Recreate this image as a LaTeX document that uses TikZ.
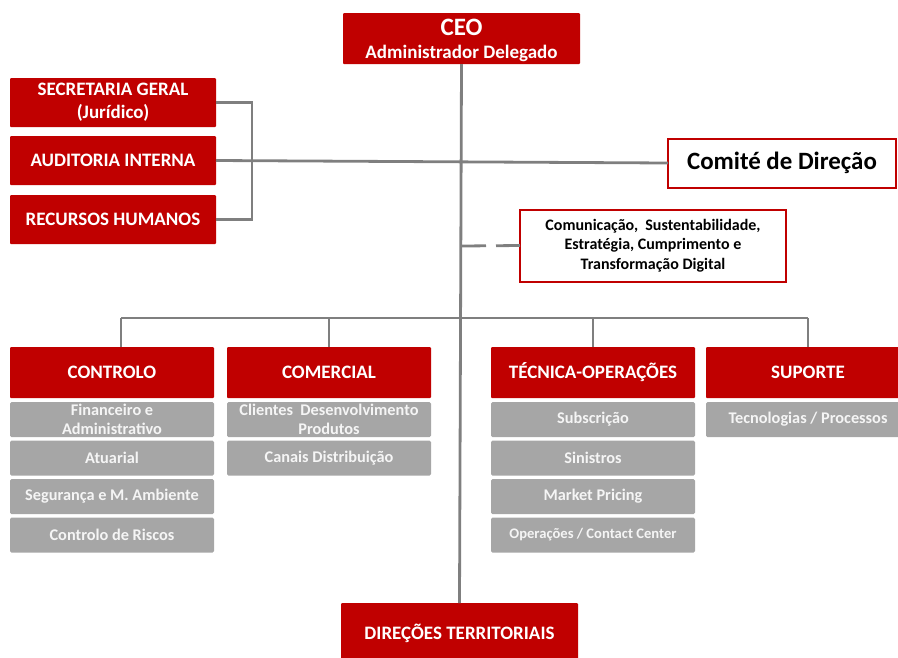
\documentclass[tikz,border=0pt]{standalone}
\usepackage{fontspec}
\setmainfont{Carlito}
\begin{document}
\begin{tikzpicture}[x=1pt,y=-1pt,
  redbox/.style={fill=cred,draw=none,rounded corners=1pt,inner sep=0pt,outer sep=0pt,text=white,font=\bfseries\fontsize{19}{23}\selectfont,align=center},
  graybox/.style={fill=cgray,draw=none,rounded corners=1.5pt,inner sep=0pt,outer sep=0pt,text=ctext,font=\bfseries\fontsize{16.3}{19.5}\selectfont,align=center,minimum width=204pt,minimum height=35pt},
  whitebox/.style={fill=white,draw=cred,line width=2pt,inner sep=0pt,outer sep=0pt,text=black,align=center},
  conn/.style={draw=cline,line width=2.8pt}]
\definecolor{cred}{HTML}{C00000}
\definecolor{cgray}{HTML}{A6A6A6}
\definecolor{ctext}{HTML}{F5F5F5}
\definecolor{cline}{HTML}{7F7F7F}
\useasboundingbox (0,0) rectangle (898,657);

\coordinate (dashpt) at (462,246);
\coordinate (busL) at (121,318);
\coordinate (busR) at (808,318);

% top boxes
\node[redbox,minimum width=237pt,minimum height=51pt] (ceo) at (461.5,38.5) {};
\node[text=white,font=\bfseries\fontsize{25}{25}\selectfont,inner sep=0pt] (ceot) at (461.5,27.5) {CEO};
\node[text=white,font=\bfseries\fontsize{19}{19}\selectfont,inner sep=0pt] (ceos) at (461.5,53.5) {Administrador Delegado};

\node[redbox,minimum width=206pt,minimum height=49pt] (sec) at (113,102.5) {SECRETARIA GERAL\\(Jurídico)};
\node[redbox,minimum width=206pt,minimum height=49pt] (aud) at (113,160.5) {AUDITORIA INTERNA};
\node[redbox,minimum width=206pt,minimum height=49pt] (rh) at (113,219.5) {RECURSOS HUMANOS};

\node[whitebox,minimum width=228pt,minimum height=49pt,font=\bfseries\fontsize{24.9}{26}\selectfont] (comite) at (782,163) {Comité de Direção};
\node[whitebox,minimum width=266pt,minimum height=72pt,font=\bfseries\fontsize{16}{19.5}\selectfont] (comun) at (653,245.5) {Comunicação,\ \ Sustentabilidade,\\Estratégia, Cumprimento e\\Transformação Digital};

% division headers
\node[redbox,minimum width=204pt,minimum height=51pt] (ctrl) at (112,372.5) {CONTROLO};
\node[redbox,minimum width=204pt,minimum height=51pt] (com) at (329,372.5) {COMERCIAL};
\node[redbox,minimum width=204pt,minimum height=51pt] (tec) at (593,372.5) {TÉCNICA-OPERAÇÕES};
\node[redbox,minimum width=204pt,minimum height=51pt] (sup) at (808,372.5) {SUPORTE};

% gray sub-boxes
\node[graybox] (c1) at (112,419.5) {Financeiro e\\Administrativo};
\node[graybox] (c2) at (112,458) {Atuarial};
\node[graybox] (c3) at (112,496.5) {Segurança e M. Ambiente};
\node[graybox] (c4) at (112,535) {Controlo de Riscos};
\node[graybox] (m1) at (329,419.5) {Clientes\ \ Desenvolvimento\\Produtos};
\node[graybox] (m2) at (329,458) {Canais Distribuição};
\node[graybox] (t1) at (593,419.5) {Subscrição};
\node[graybox] (t2) at (593,458) {Sinistros};
\node[graybox] (t3) at (593,496.5) {Market Pricing};
\node[graybox,font=\bfseries\fontsize{14.6}{19}\selectfont] (t4) at (593,535) {Operações / Contact Center};
\node[graybox] (s1) at (808,419.5) {Tecnologias\ /\ Processos};

\node[redbox,minimum width=237pt,minimum height=60pt] (dir) at (459.5,633) {DIREÇÕES TERRITORIAIS};

% connectors
\draw[conn] (ceo.south) -- (dir.north);
\draw[conn] (sec.east) -- (252,102.5) -- (252,219.5) -- (rh.east);
\draw[conn] (aud.east) -- (comite.west);
\draw[conn,dash pattern=on 24pt off 10pt] (dashpt) -- (comun.west);
\draw[conn] (busL) -- (busR);
\draw[conn] (ctrl.north -| busL) -- (busL);
\draw[conn] (com.north) -- (com.north |- busL);
\draw[conn] (tec.north) -- (tec.north |- busL);
\draw[conn] (sup.north) -- (sup.north |- busL);
\end{tikzpicture}
\end{document}
